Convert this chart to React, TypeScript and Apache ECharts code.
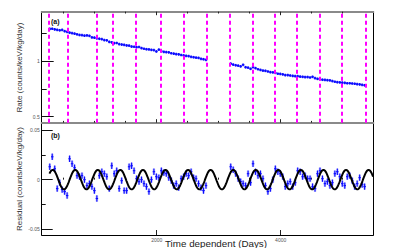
import React, { useEffect, useRef } from "react";
import * as echarts from "echarts";

// ---- data ----
const binDays = 40;
const seg1Start = 255;
const seg2Start = 3174;

const runBoundaries = [255, 570, 1032, 1295, 1661, 2058, 2440, 2806, 3174, 3545, 3897, 4260, 4634, 4986, 5376];

const rateSeg1 = [
  1.288, 1.29, 1.284, 1.28, 1.276, 1.279, 1.268, 1.262, 1.255, 1.25,
  1.246, 1.24, 1.234, 1.232, 1.228, 1.23, 1.226, 1.212, 1.21, 1.204,
  1.2, 1.196, 1.188, 1.186, 1.172, 1.168, 1.16, 1.162, 1.152, 1.148,
  1.145, 1.14, 1.138, 1.13, 1.128, 1.124, 1.126, 1.116, 1.11, 1.106,
  1.104, 1.1, 1.098, 1.086, 1.102, 1.088, 1.082, 1.08, 1.078, 1.07,
  1.066, 1.062, 1.06, 1.054, 1.05, 1.046, 1.044, 1.038, 1.034, 1.03,
  1.028, 1.02, 1.016, 1.01,
];

const rateSeg2 = [
  0.976, 0.968, 0.962, 0.958, 0.952, 0.966, 0.944, 0.94, 0.93, 0.944,
  0.936, 0.926, 0.92, 0.914, 0.912, 0.906, 0.9, 0.898, 0.894, 0.886,
  0.884, 0.88, 0.874, 0.874, 0.87, 0.866, 0.864, 0.864, 0.86, 0.858,
  0.856, 0.856, 0.852, 0.858, 0.846, 0.84, 0.836, 0.832, 0.83, 0.828,
  0.826, 0.82, 0.814, 0.81, 0.808, 0.806, 0.804, 0.8, 0.8, 0.798,
  0.796, 0.792, 0.79, 0.786, 0.782,
];

const residSeg1 = [
  0.013, 0.023, 0.011, -0.009, -0.003, -0.01, -0.012, -0.016, 0.021, 0.016,
  0.012, 0.004, 0.003, 0.004, 0.0, -0.006, -0.004, -0.007, -0.011, -0.019,
  0.004, 0.008, 0.006, 0.003, -0.009, 0.014, 0.006, 0.009, -0.009, -0.001,
  -0.011, -0.011, 0.013, 0.014, 0.009, 0.001, -0.002, 0.0, -0.004, -0.007,
  -0.012, 0.0, 0.008, 0.003, 0.002, 0.009, 0.007, 0.006, 0.002, -0.001,
  -0.006, -0.004, -0.008, 0.001, 0.003, 0.006, 0.004, 0.008, 0.002, 0.001,
  -0.004, -0.008, -0.011, -0.006,
];

const residSeg2 = [
  0.013, 0.01, 0.006, 0.001, -0.002, -0.004, -0.006, 0.006, -0.003, 0.016,
  0.008, 0.004, 0.006, 0.001, -0.006, -0.012, -0.009, 0.0, 0.011, 0.008,
  0.006, 0.003, -0.007, -0.004, -0.002, -0.007, -0.003, 0.009, 0.008, 0.003,
  0.004, 0.001, 0.001, -0.007, -0.009, 0.006, 0.009, 0.001, -0.004, -0.002,
  -0.006, -0.003, 0.006, 0.008, 0.003, -0.004, -0.006, 0.003, 0.004, -0.001,
  -0.007, -0.004, 0.002, -0.005, -0.007,
];

// annual modulation fit
const fitAmplitude = 0.0098;
const fitPeriod = 364;
const fitPeak = 322;
const fitStart = 270;

const xMajorTicks = [2000, 4000];
const xMinorTicks = [500, 1000, 1500, 2500, 3000, 3500, 4500, 5000];
const rateMajorTicks = [0.5, 1];
const rateMinorTicks = [0.75, 1.25];
const residMajorTicks = [-0.05, 0, 0.05];
const residMinorTicks = [-0.025, 0.025];

const X_MIN = 145;
const X_MAX = 5494;
const RATE_MIN = 0.446;
const RATE_MAX = 1.443;
const RES_MIN = -0.0557;
const RES_MAX = 0.057;

const FONT = "'Liberation Sans', Arial, sans-serif";

const binCenters = (start: number, n: number) =>
  Array.from({ length: n }, (_, i) => start + binDays * (i + 0.5));

function errorSeries(days: number[], values: number[], xIdx: number, yIdx: number, errY: number, boxY: number, lw: number, extra: any = {}) {
  return {
    type: "custom",
    xAxisIndex: xIdx,
    yAxisIndex: yIdx,
    z: 3,
    data: days.map((d, i) => [d, values[i]]),
    renderItem: (_params: any, api: any) => {
      const x = api.value(0);
      const y = api.value(1);
      const c = api.coord([x, y]);
      const l = api.coord([x - binDays / 2, y]);
      const r = api.coord([x + binDays / 2, y]);
      const t = api.coord([x, y + errY]);
      const b = api.coord([x, y - errY]);
      const bt = api.coord([x, y + boxY]);
      const bb = api.coord([x, y - boxY]);
      return {
        type: "group",
        children: [
          {
            type: "rect",
            shape: { x: l[0], y: bt[1], width: r[0] - l[0], height: bb[1] - bt[1] },
            style: { fill: "rgba(110,110,255,0.45)" },
          },
          {
            type: "line",
            shape: { x1: l[0], y1: c[1], x2: r[0], y2: c[1] },
            style: { stroke: "#0a0aff", lineWidth: lw },
          },
          {
            type: "line",
            shape: { x1: c[0], y1: t[1], x2: c[0], y2: b[1] },
            style: { stroke: "#0a0aff", lineWidth: lw },
          },
        ],
      };
    },
    ...extra,
  };
}

function xAxis(gridIndex: number, position: string, ticks: number[], len: number, line: any, labels?: number[]) {
  return {
    type: "value",
    gridIndex,
    position,
    min: X_MIN,
    max: X_MAX,
    axisLine: line ? { show: true, onZero: false, lineStyle: line } : { show: false },
    axisTick: { show: true, inside: true, length: len, customValues: ticks, lineStyle: { color: "#222", width: 1 } },
    axisLabel: labels
      ? { show: true, customValues: labels, fontSize: 5, color: "#555", margin: 2, fontFamily: FONT, formatter: (v: number) => String(v) }
      : { show: false },
    splitLine: { show: false },
  };
}

function yAxis(gridIndex: number, position: string, min: number, max: number, ticks: number[], len: number, line: any, labels?: number[]) {
  return {
    type: "value",
    gridIndex,
    position,
    min,
    max,
    axisLine: line ? { show: true, onZero: false, lineStyle: line } : { show: false },
    axisTick: { show: ticks.length > 0, inside: true, length: len, customValues: ticks, lineStyle: { color: "#111", width: 1 } },
    axisLabel: labels
      ? { show: true, customValues: labels, fontSize: 5, color: "#555", margin: 2, fontFamily: FONT, formatter: (v: number) => String(v) }
      : { show: false },
    splitLine: { show: false },
  };
}

export default function App() {
  const ref = useRef<HTMLDivElement>(null);
  useEffect(() => {
    if (!ref.current) return;
    const chart = echarts.init(ref.current, undefined, { renderer: "svg" });

    const days1 = binCenters(seg1Start, rateSeg1.length);
    const days2 = binCenters(seg2Start, rateSeg2.length);

    const fitData: number[][] = [];
    for (let d = fitStart; d <= X_MAX; d += 4) {
      fitData.push([d, fitAmplitude * Math.cos((2 * Math.PI * (d - fitPeak)) / fitPeriod)]);
    }

    const black = { color: "#000", width: 1 };
    const gray = { color: "#8a8a8a", width: 2 };

    chart.setOption({
      animation: false,
      backgroundColor: "#fff",
      textStyle: { fontFamily: FONT },
      grid: [
        { left: 41.7, top: 11.7, width: 331.6, height: 111, containLabel: false },
        { left: 41.7, top: 123, width: 331.6, height: 112, containLabel: false },
      ],
      xAxis: [
        xAxis(0, "bottom", xMajorTicks, 3.5, gray),
        xAxis(0, "bottom", xMinorTicks, 1.8, null),
        xAxis(0, "top", xMajorTicks, 3.5, gray),
        xAxis(0, "top", xMinorTicks, 1.8, null),
        xAxis(1, "bottom", xMajorTicks, 5, black, xMajorTicks),
        xAxis(1, "bottom", xMinorTicks, 2, null),
      ],
      yAxis: [
        yAxis(0, "left", RATE_MIN, RATE_MAX, rateMajorTicks, 12, black, rateMajorTicks),
        yAxis(0, "left", RATE_MIN, RATE_MAX, rateMinorTicks, 5, null),
        yAxis(0, "right", RATE_MIN, RATE_MAX, [], 0, black),
        yAxis(1, "left", RES_MIN, RES_MAX, residMajorTicks, 11, black, residMajorTicks),
        yAxis(1, "left", RES_MIN, RES_MAX, residMinorTicks, 4, null),
        yAxis(1, "right", RES_MIN, RES_MAX, [], 0, black),
      ],
      series: [
        errorSeries(days1, rateSeg1, 0, 0, 0.012, 0.01, 1.4, {
          markLine: {
            silent: true,
            symbol: "none",
            label: { show: false },
            lineStyle: { color: "#ff00ff", type: [4, 3], width: 2 },
            data: runBoundaries.map((d) => ({ xAxis: d })),
          },
        }),
        errorSeries(days2, rateSeg2, 0, 0, 0.012, 0.01, 1.4),
        errorSeries(days1, residSeg1, 4, 3, 0.0032, 0.003, 1.1),
        errorSeries(days2, residSeg2, 4, 3, 0.0032, 0.003, 1.1),
        {
          type: "line",
          xAxisIndex: 4,
          yAxisIndex: 3,
          data: fitData,
          showSymbol: false,
          symbol: "none",
          z: 4,
          lineStyle: { color: "#000", width: 2 },
        },
      ],
      graphic: [
        {
          type: "text",
          x: 51,
          y: 21,
          style: { text: "(a)", fontSize: 7, fontWeight: "bold", fill: "#111", fontFamily: FONT, verticalAlign: "middle" },
        },
        {
          type: "text",
          x: 51,
          y: 135,
          style: { text: "(b)", fontSize: 7, fontWeight: "bold", fill: "#111", fontFamily: FONT, verticalAlign: "middle" },
        },
        {
          type: "text",
          x: 19,
          y: 67.5,
          rotation: Math.PI / 2,
          style: { text: "Rate (counts/keV/kg/day)", fontSize: 8, fill: "#333", fontFamily: FONT, align: "center", verticalAlign: "middle" },
        },
        {
          type: "text",
          x: 19,
          y: 179,
          rotation: Math.PI / 2,
          style: { text: "Residual (counts/keV/kg/day)", fontSize: 8, fill: "#333", fontFamily: FONT, align: "center", verticalAlign: "middle" },
        },
        {
          type: "text",
          x: 165,
          y: 243,
          style: { text: "Time dependent (Days)", fontSize: 9.8, fill: "#222", fontFamily: FONT, align: "left", verticalAlign: "middle" },
        },
      ],
    });
    return () => chart.dispose();
  }, []);
  return <div ref={ref} style={{ position: "fixed", left: 0, top: 0, width: 415, height: 248 }} />;
}
